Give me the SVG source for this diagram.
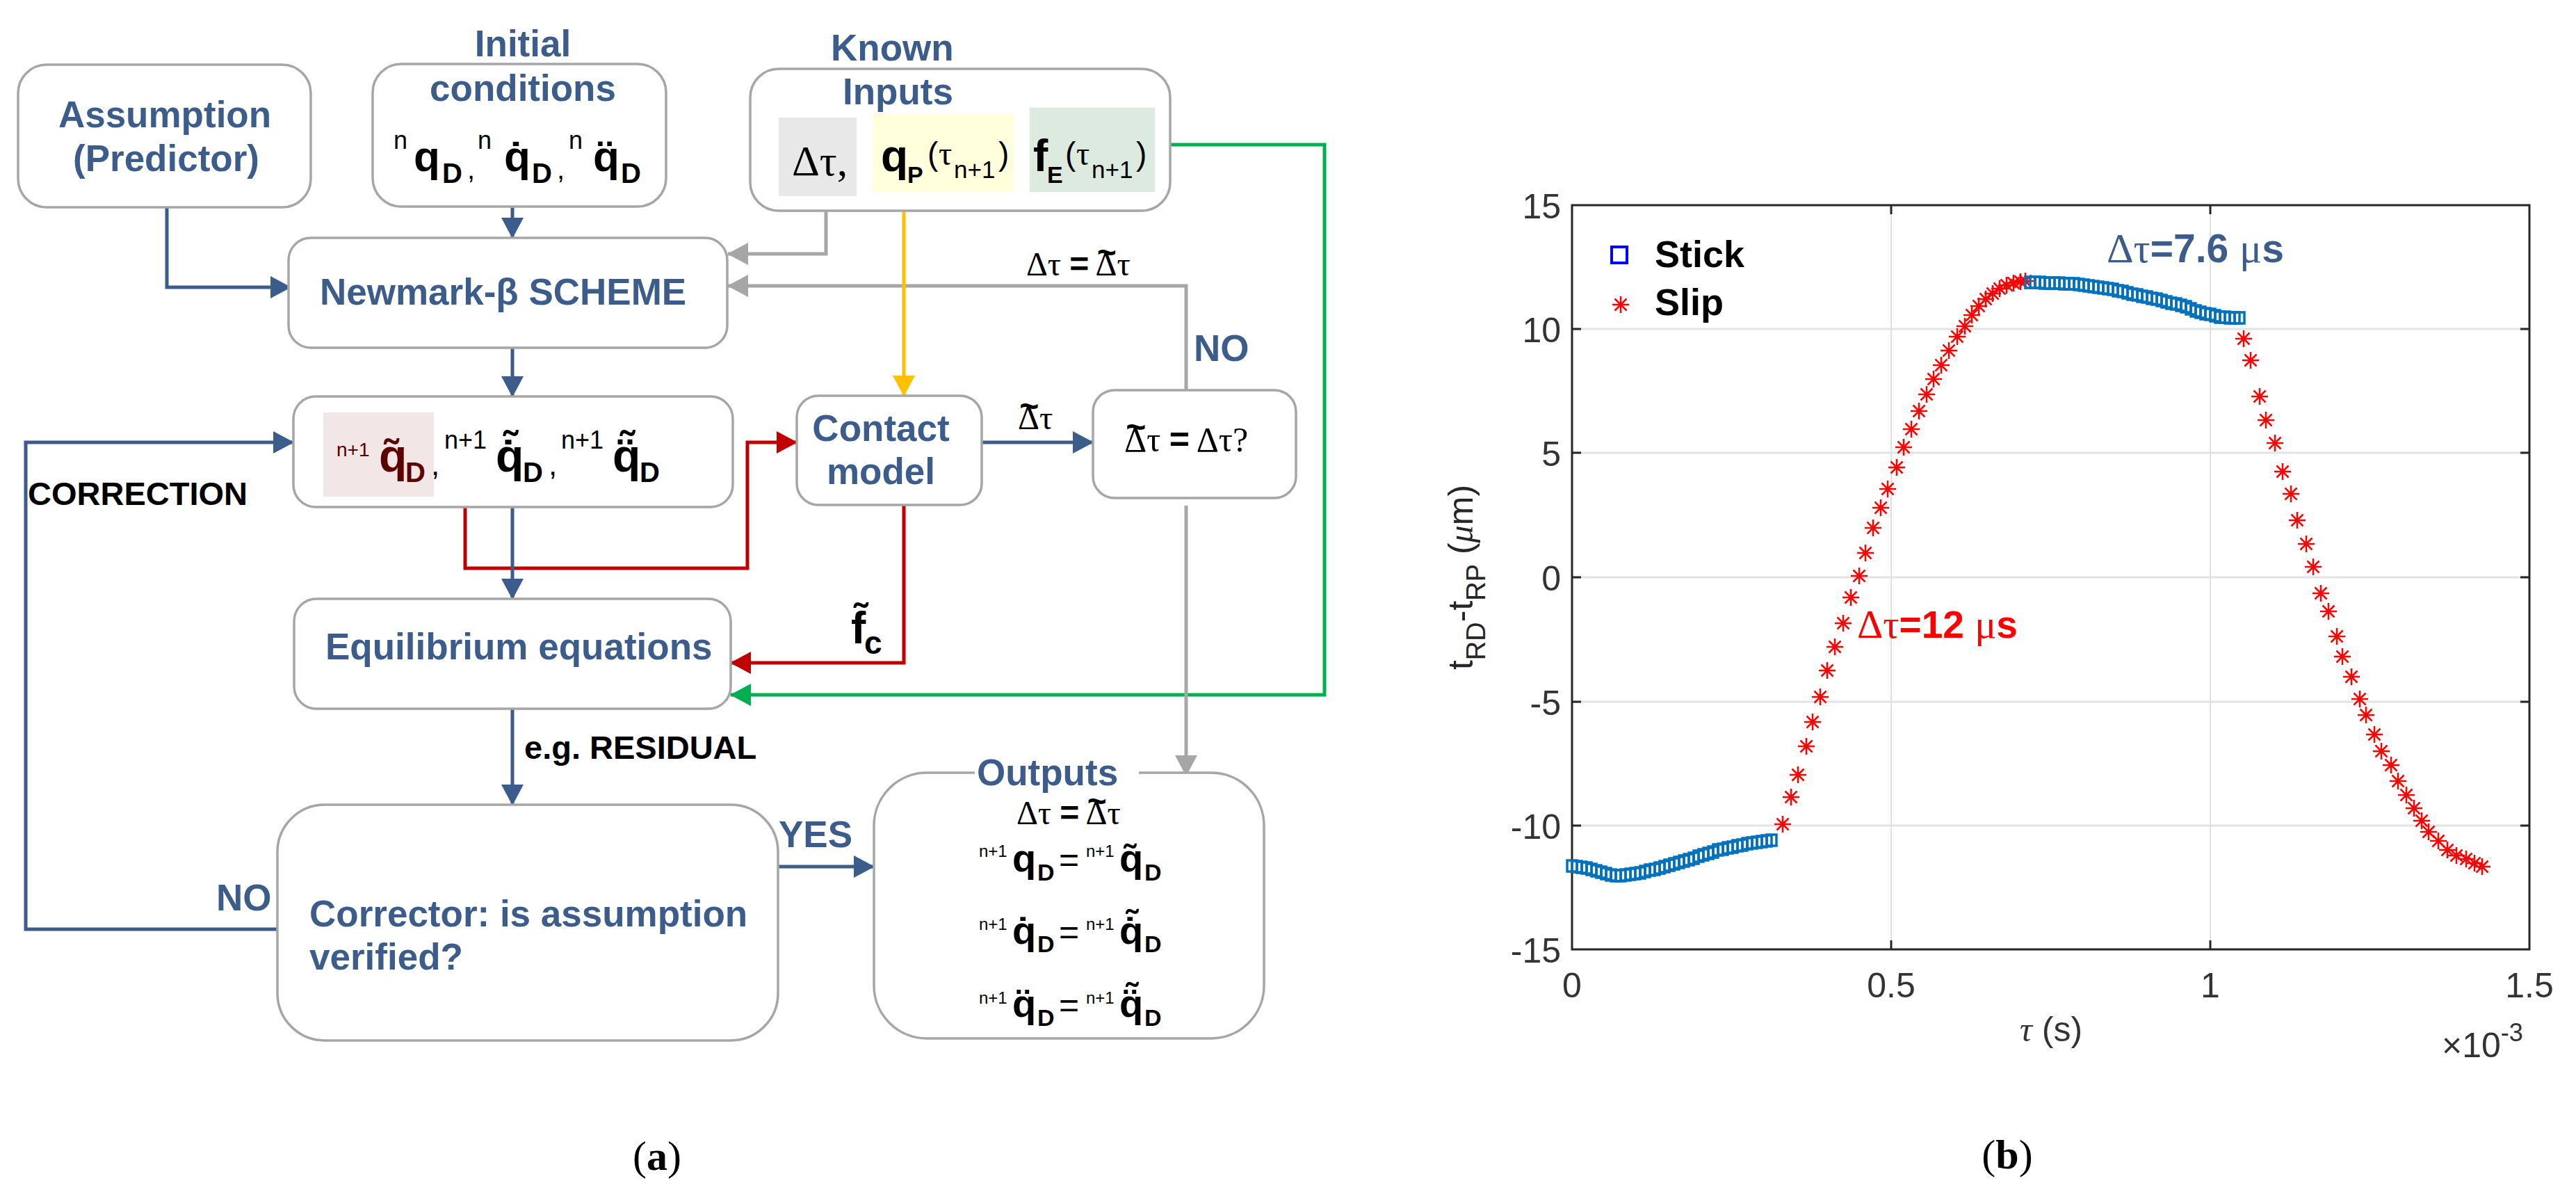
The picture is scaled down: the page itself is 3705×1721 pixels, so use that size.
<svg xmlns="http://www.w3.org/2000/svg" width="3705" height="1721" viewBox="0 0 3705 1721">
<style>
.bg{fill:#fff}
.box{fill:#fff;stroke:#A6A6A6;stroke-width:3.5}
.lbl{font-family:"Liberation Sans",Arial,sans-serif;font-weight:bold;font-size:53px;fill:#3C5D8C}
.blk{font-family:"Liberation Sans",Arial,sans-serif;font-weight:bold;font-size:47px;fill:#000}
.s{font-family:"Liberation Sans",Arial,sans-serif;fill:#000}
.b{font-weight:bold}
.ser{font-family:"Liberation Serif","Times New Roman",serif;fill:#000}
.tl{font-family:"Liberation Sans",Arial,sans-serif;font-weight:bold}
.cb{fill:none;stroke:#3C5D8C;stroke-width:5;marker-end:url(#ab)}
.cg{fill:none;stroke:#A6A6A6;stroke-width:5;marker-end:url(#ag)}
.cr{fill:none;stroke:#C00000;stroke-width:5;marker-end:url(#ar)}
.cy{fill:none;stroke:#FFC000;stroke-width:5;marker-end:url(#ay)}
.cgr{fill:none;stroke:#00B050;stroke-width:5;marker-end:url(#agr)}
.ax{fill:none;stroke:#262626;stroke-width:3}
.grid{stroke:#E3E3E3;stroke-width:3}
.tick{font-family:"Liberation Sans",Arial,sans-serif;font-size:50px;fill:#333}
.stick{fill:none;stroke:none;marker-start:url(#msq);marker-mid:url(#msq);marker-end:url(#msq)}
.slip{fill:none;stroke:none;marker-start:url(#mst);marker-mid:url(#mst);marker-end:url(#mst)}
</style>
<defs>
<marker id="ab" viewBox="0 0 30 32" refX="29" refY="16" markerWidth="30" markerHeight="32" markerUnits="userSpaceOnUse" orient="auto"><path d="M0,0 L30,16 L0,32 z" fill="#3C5D8C"/></marker>
<marker id="ag" viewBox="0 0 30 32" refX="29" refY="16" markerWidth="30" markerHeight="32" markerUnits="userSpaceOnUse" orient="auto"><path d="M0,0 L30,16 L0,32 z" fill="#A6A6A6"/></marker>
<marker id="ar" viewBox="0 0 30 32" refX="29" refY="16" markerWidth="30" markerHeight="32" markerUnits="userSpaceOnUse" orient="auto"><path d="M0,0 L30,16 L0,32 z" fill="#C00000"/></marker>
<marker id="ay" viewBox="0 0 30 32" refX="29" refY="16" markerWidth="30" markerHeight="32" markerUnits="userSpaceOnUse" orient="auto"><path d="M0,0 L30,16 L0,32 z" fill="#FFC000"/></marker>
<marker id="agr" viewBox="0 0 30 32" refX="29" refY="16" markerWidth="30" markerHeight="32" markerUnits="userSpaceOnUse" orient="auto"><path d="M0,0 L30,16 L0,32 z" fill="#00B050"/></marker>
<marker id="msq" viewBox="-11 -12 22 24" refX="0" refY="0" markerWidth="22" markerHeight="24" markerUnits="userSpaceOnUse" orient="0"><rect x="-7" y="-8" width="14" height="16" fill="none" stroke="#0072BD" stroke-width="3.5"/></marker>
<marker id="mst" viewBox="-14 -14 28 28" refX="0" refY="0" markerWidth="28" markerHeight="28" markerUnits="userSpaceOnUse" orient="0"><path d="M-12,0H12M0,-12V12M-8.5,-8.5L8.5,8.5M-8.5,8.5L8.5,-8.5" fill="none" stroke="#FF0000" stroke-width="2.5"/></marker>
</defs>
<rect class="bg" x="0" y="0" width="3705" height="1721"/>

<!-- connectors -->
<g id="connectors">
<polyline class="cb" points="240,298 240,413 418,413"/>
<polyline class="cb" points="737,297 737,342"/>
<polyline class="cb" points="737,500 737,570"/>
<polyline class="cr" points="669,705 669,817 1075,817 1075,636 1146,636"/>
<polyline class="cb" points="737,729 737,861"/>
<polyline class="cb" points="737,1019 737,1157"/>
<polyline class="cb" points="1119,1246 1257,1246"/>
<polyline class="cb" points="399,1336 37,1336 37,636 422,636"/>
<polyline class="cb" points="1412,636 1572,636"/>
<polyline class="cg" points="1188,282 1188,365 1047,365"/>
<polyline class="cg" points="1706,561 1706,411 1047,411"/>
<polyline class="cy" points="1300,276 1300,569"/>
<polyline class="cgr" points="1661,208 1905,208 1905,999 1051,999"/>
<polyline class="cg" points="1706,727 1706,1115"/>
<polyline class="cr" points="1300,726 1300,953 1051,953"/>
<text class="ser" x="1476" y="396" font-size="48">Δτ <tspan class="tl">=</tspan> Δ<tspan class="tl" dx="-28.7" dy="-17">~</tspan><tspan dx="0.7" dy="17">τ</tspan></text>
<text class="lbl" x="1717" y="519">NO</text>
<text class="ser" x="1464" y="617" font-size="48">Δ<tspan class="tl" dx="-28.7" dy="-17">~</tspan><tspan dx="0.7" dy="17">τ</tspan></text>
<text class="s b" x="1224" y="925" font-size="64">f̃</text>
<text class="s b" x="1243" y="940" font-size="46">c</text>
<text class="blk" x="40" y="726">CORRECTION</text>
<text class="blk" x="754" y="1091">e.g. RESIDUAL</text>
<text class="lbl" x="311" y="1309">NO</text>
<text class="lbl" x="1120" y="1218">YES</text>
</g>

<g id="n-assumption">
<rect class="box" x="26" y="93" width="421" height="205" rx="41"/>
<text class="lbl" x="237" y="183" text-anchor="middle">Assumption</text>
<text class="lbl" x="239" y="246" text-anchor="middle">(Predictor)</text>
</g>

<g id="n-initial">
<rect class="box" x="536" y="92" width="422" height="205" rx="41"/>
<text class="lbl" x="752" y="81" text-anchor="middle">Initial</text>
<text class="lbl" x="752" y="145" text-anchor="middle">conditions</text>
<text class="s" x="566" y="214" font-size="36">n</text>
<text class="s b" x="595" y="246" font-size="62">q</text>
<text class="s b" x="636" y="263" font-size="40">D</text>
<text class="s" x="672" y="257" font-size="40">,</text>
<text class="s" x="687" y="214" font-size="36">n</text>
<text class="s b" x="725" y="246" font-size="62">q̇</text>
<text class="s b" x="765" y="263" font-size="40">D</text>
<text class="s" x="801" y="257" font-size="40">,</text>
<text class="s" x="818" y="214" font-size="36">n</text>
<text class="s b" x="853" y="246" font-size="62">q̈</text>
<text class="s b" x="893" y="263" font-size="40">D</text>
</g>

<g id="n-known">
<rect class="box" x="1079" y="99" width="604" height="204" rx="41"/>
<rect x="1120" y="169" width="112" height="113" fill="#E8E8E8"/>
<rect x="1255" y="164" width="203" height="112" fill="#FFFFDC"/>
<rect x="1481" y="155" width="180" height="121" fill="#DDEADF"/>
<text class="lbl" x="1195" y="87">Known</text>
<text class="lbl" x="1212" y="150">Inputs</text>
<text class="ser" x="1139" y="252" font-size="62">Δτ,</text>
<text class="s b" x="1267" y="246" font-size="64">q</text>
<text class="s b" x="1305" y="263" font-size="34">P</text>
<text class="s" x="1334" y="237" font-size="46">(</text>
<text class="ser" x="1350" y="237" font-size="48">τ</text>
<text class="s" x="1372" y="256" font-size="35">n+1</text>
<text class="s" x="1436" y="237" font-size="46">)</text>
<text class="s b" x="1486" y="246" font-size="64">f</text>
<text class="s b" x="1506" y="263" font-size="34">E</text>
<text class="s" x="1532" y="237" font-size="46">(</text>
<text class="ser" x="1548" y="237" font-size="48">τ</text>
<text class="s" x="1570" y="256" font-size="35">n+1</text>
<text class="s" x="1634" y="237" font-size="46">)</text>
</g>

<g id="n-newmark">
<rect class="box" x="415" y="342" width="631" height="158" rx="32"/>
<text class="lbl" x="460" y="438">Newmark-β SCHEME</text>
</g>

<g id="n-predicted">
<rect class="box" x="422" y="570" width="632" height="159" rx="32"/>
<rect x="465" y="593" width="159" height="121" fill="#F2E6E6"/>
<text class="s" x="484" y="656" font-size="28" style="fill:#5C0000">n+1</text>
<text class="s b" x="545" y="678" font-size="66" style="fill:#5C0000">q̃</text>
<text class="s b" x="583" y="693" font-size="40" style="fill:#5C0000">D</text>
<text class="s" x="620" y="683" font-size="44">,</text>
<text class="s" x="639" y="645" font-size="36">n+1</text>
<text class="s b" x="713" y="678" font-size="66">q̇̃</text>
<text class="s b" x="752" y="693" font-size="40">D</text>
<text class="s" x="789" y="683" font-size="44">,</text>
<text class="s" x="807" y="645" font-size="36">n+1</text>
<text class="s b" x="881" y="678" font-size="66">q̈̃</text>
<text class="s b" x="920" y="693" font-size="40">D</text>
</g>

<g id="n-contact">
<rect class="box" x="1146" y="569" width="266" height="157" rx="31"/>
<text class="lbl" x="1267" y="634" text-anchor="middle">Contact</text>
<text class="lbl" x="1267" y="696" text-anchor="middle">model</text>
</g>

<g id="n-check">
<rect class="box" x="1572" y="561" width="292" height="155" rx="31"/>
<text class="ser" x="1617" y="649" font-size="50">Δ<tspan class="tl" dx="-29.9" dy="-18">~</tspan><tspan dx="0.7" dy="18">τ</tspan> <tspan class="tl">=</tspan> Δτ?</text>
</g>

<g id="n-equilibrium">
<rect class="box" x="423" y="861" width="628" height="158" rx="32"/>
<text class="lbl" x="468" y="948">Equilibrium equations</text>
</g>

<g id="n-corrector">
<rect class="box" x="399" y="1157" width="720" height="339" rx="68"/>
<text class="lbl" x="445" y="1332">Corrector: is assumption</text>
<text class="lbl" x="445" y="1394">verified?</text>
</g>

<g id="n-outputs">
<rect class="box" x="1257" y="1111" width="561" height="382" rx="76"/>
<rect x="1402" y="1104" width="236" height="16" fill="#fff"/>
<text class="lbl" x="1405" y="1129">Outputs</text>
<text class="ser" x="1462" y="1185" font-size="48">Δτ <tspan class="tl">=</tspan> Δ<tspan class="tl" dx="-28.7" dy="-17">~</tspan><tspan dx="0.7" dy="17">τ</tspan></text>
<text class="s" x="1408" y="1232" font-size="24">n+1</text>
<text class="s b" x="1456" y="1253" font-size="56">q</text>
<text class="s b" x="1492" y="1266" font-size="34">D</text>
<text class="s" x="1523" y="1253" font-size="50">=</text>
<text class="s" x="1562" y="1232" font-size="24">n+1</text>
<text class="s b" x="1610" y="1253" font-size="56">q̃</text>
<text class="s b" x="1646" y="1266" font-size="34">D</text>
<text class="s" x="1408" y="1337" font-size="24">n+1</text>
<text class="s b" x="1456" y="1357" font-size="56">q̇</text>
<text class="s b" x="1492" y="1369" font-size="34">D</text>
<text class="s" x="1523" y="1357" font-size="50">=</text>
<text class="s" x="1562" y="1337" font-size="24">n+1</text>
<text class="s b" x="1610" y="1357" font-size="56">q̇̃</text>
<text class="s b" x="1646" y="1369" font-size="34">D</text>
<text class="s" x="1408" y="1443" font-size="24">n+1</text>
<text class="s b" x="1456" y="1462" font-size="56">q̈</text>
<text class="s b" x="1492" y="1475" font-size="34">D</text>
<text class="s" x="1523" y="1462" font-size="50">=</text>
<text class="s" x="1562" y="1443" font-size="24">n+1</text>
<text class="s b" x="1610" y="1462" font-size="56">q̈̃</text>
<text class="s b" x="1646" y="1475" font-size="34">D</text>
</g>

<text class="ser" x="945" y="1682" font-size="60" text-anchor="middle">(<tspan font-weight="bold">a</tspan>)</text>

<!-- plot (b) -->
<g id="plot">
<g>
<line class="grid" x1="2261" y1="473" x2="3638" y2="473"/>
<line class="grid" x1="2261" y1="651" x2="3638" y2="651"/>
<line class="grid" x1="2261" y1="830" x2="3638" y2="830"/>
<line class="grid" x1="2261" y1="1009" x2="3638" y2="1009"/>
<line class="grid" x1="2261" y1="1187" x2="3638" y2="1187"/>
<line x1="2720" y1="295" x2="2720" y2="1365" stroke="#E0E0E0" stroke-width="2"/>
<line x1="3179" y1="295" x2="3179" y2="1365" stroke="#E0E0E0" stroke-width="2"/>
</g>
<rect class="ax" x="2261" y="295" width="1377" height="1070"/>
<path class="ax" d="M2261,473h13M2261,651h13M2261,830h13M2261,1009h13M2261,1187h13M3638,473h-13M3638,651h-13M3638,830h-13M3638,1009h-13M3638,1187h-13M2720,1365v-13M3179,1365v-13M2720,295v13M3179,295v13"/>
<g class="tick" text-anchor="end">
<text x="2245" y="314">15</text>
<text x="2245" y="492">10</text>
<text x="2245" y="670">5</text>
<text x="2245" y="849">0</text>
<text x="2245" y="1028">-5</text>
<text x="2245" y="1206">-10</text>
<text x="2245" y="1384">-15</text>
</g>
<g class="tick" text-anchor="middle">
<text x="2261" y="1434">0</text>
<text x="2720" y="1434">0.5</text>
<text x="3179" y="1434">1</text>
<text x="3638" y="1434">1.5</text>
</g>
<text class="tick" x="2950" y="1497" text-anchor="middle"><tspan font-family="Liberation Serif" font-style="italic">τ</tspan> (s)</text>
<text class="tick" x="3512" y="1520">×10<tspan font-size="36" dy="-23">-3</tspan></text>
<text class="tick" transform="translate(2118,830) rotate(-90)" text-anchor="middle" font-size="52" style="fill:#262626">t<tspan font-size="38" dy="18">RD</tspan><tspan dy="-18">-t</tspan><tspan font-size="38" dy="18">RP</tspan><tspan dy="-18"> (</tspan><tspan font-family="Liberation Serif" font-style="italic">μ</tspan>m)</text>

<polyline class="stick" points="2261,1245 2268,1246 2275,1247 2282,1248 2289,1250 2296,1252 2303,1254 2310,1256 2317,1258 2324,1259 2331,1259 2338,1258 2345,1257 2352,1256 2359,1255 2366,1253 2373,1251 2380,1250 2387,1248 2394,1246 2401,1244 2408,1242 2415,1240 2422,1238 2429,1236 2436,1234 2443,1231 2450,1229 2457,1227 2464,1225 2471,1222 2478,1221 2485,1219 2492,1218 2499,1216 2506,1215 2513,1213 2520,1212 2527,1211 2534,1210 2541,1209 2548,1208"/>
<polyline class="slip" points="2564,1185 2576,1146 2586,1114 2598,1073 2607,1038 2618,1002 2628,964 2639,930 2651,896 2662,859 2674,828 2683,795 2694,759 2705,730 2715,703 2728,672 2738,643 2749,617 2760,591 2771,567 2781,545 2792,525 2803,504 2815,484 2826,469 2836,453 2846,440 2856,430 2866,422 2876,415 2886,410 2896,407 2906,405 2913,404"/>
<polyline class="stick" points="2920,406 2927,406 2934,406 2941,407 2948,407 2955,407 2962,407 2969,408 2976,408 2983,408 2990,409 2997,410 3004,411 3011,412 3018,413 3025,414 3032,415 3039,416 3046,418 3053,419 3060,421 3067,423 3074,424 3081,426 3088,427 3095,429 3102,430 3109,432 3116,434 3123,436 3130,437 3137,439 3144,441 3151,444 3158,447 3165,449 3172,451 3179,452 3186,454 3193,456 3200,456 3207,457 3214,457 3221,457"/>
<polyline class="slip" points="3227,487 3237,518 3250,570 3259,604 3272,637 3283,678 3295,710 3304,748 3317,782 3327,815 3338,853 3349,879 3361,915 3369,944 3382,973 3394,1005 3403,1028 3415,1056 3425,1080 3439,1100 3449,1123 3461,1143 3472,1162 3483,1180 3493,1196 3507,1209 3520,1222 3533,1230 3547,1235 3559,1241 3570,1246"/>

<rect x="2318" y="355" width="22" height="23" fill="none" stroke="#0000FF" stroke-width="4"/>
<path d="M2319,438H2343M2331,426V450M2322.5,429.5L2339.5,446.5M2322.5,446.5L2339.5,429.5" fill="none" stroke="#FF0000" stroke-width="2.5"/>
<text class="s b" x="2380" y="384" font-size="54">Stick</text>
<text class="s b" x="2380" y="453" font-size="54">Slip</text>

<text x="3030" y="377" font-size="60" class="ser" style="fill:#3C5D8C">Δτ<tspan font-family="Liberation Sans" font-weight="bold" font-size="57">=7.6 </tspan>μ<tspan font-family="Liberation Sans" font-weight="bold" font-size="57">s</tspan></text>
<text x="2671" y="917" font-size="58" class="ser" style="fill:#FF0000">Δτ<tspan font-family="Liberation Sans" font-weight="bold" font-size="55">=12 </tspan>μ<tspan font-family="Liberation Sans" font-weight="bold" font-size="55">s</tspan></text>
</g>

<text class="ser" x="2887" y="1680" font-size="60" text-anchor="middle">(<tspan font-weight="bold">b</tspan>)</text>
</svg>
